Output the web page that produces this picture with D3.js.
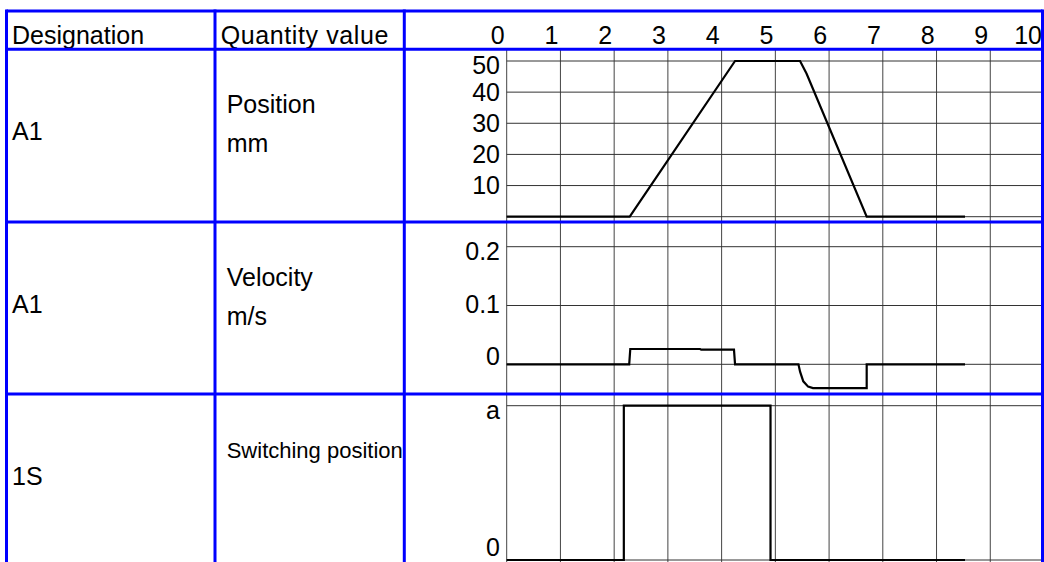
<!DOCTYPE html>
<html>
<head>
<meta charset="utf-8">
<script src="https://cdn.jsdelivr.net/npm/d3@7"></script>
<style>
  html, body { margin: 0; padding: 0; background: #fff; }
  svg { display: block; font-family: "Liberation Sans", Arial, sans-serif; }
</style>
</head>
<body>
<div id="chart"></div>
<script>
// time steps across the header
const timeTicks = [0, 1, 2, 3, 4, 5, 6, 7, 8, 9, 10];

// left columns
const designations = ["A1", "A1", "1S"];
const quantities = [["Position", "mm"], ["Velocity", "m/s"], ["Switching position"]];

// A1 position (mm)
const positionTicks = [10, 20, 30, 40, 50];
const positionTime = [0, 2.29, 4.25, 5.46, 5.58, 6.70, 8.53];
const positionValue = [0, 0, 50, 50, 46, 0, 0];

// A1 velocity (m/s)
const velocityTicks = [0, 0.1, 0.2];
const velocityTime = [0, 2.28, 2.30, 3.60, 3.62, 4.23, 4.25, 5.43, 5.46, 5.52, 5.61, 5.70, 6.70, 6.70, 8.53];
const velocityValue = [0, 0, 0.026, 0.026, 0.025, 0.025, 0, 0, -0.0125, -0.029, -0.038, -0.0405, -0.0405, 0, 0];

// 1S switching position, 0 / a
const switchTicks = [0, 1];
const switchTickLabels = ["0", "a"];
const switchTime = [0, 2.18, 2.18, 4.91, 4.91, 8.53];
const switchValue = [0, 0, 1, 1, 0, 0];

const W = 1044, H = 562;
const fontSize = 25;
const blue = "#0000ff";

// table frame
const cols = [6.5, 215, 404.3, 1042.5];
const headTop = 11, headBottom = 49.3;
const rowTops = [headBottom, 222, 394];

const x = d3.scaleLinear().domain([0, 10]).range([506.7, 1044]);

const svg = d3.select("#chart").append("svg").attr("width", W).attr("height", H);

// one panel per row, each with its own y scale
const posY = d3.scaleLinear().domain([0, 50]).range([216.7, 61]);
const velY = d3.scaleLinear().domain([0, 0.2]).range([364.3, 246.7]);
const swY = d3.scaleLinear().domain([0, 1]).range([560, 405.7]);

const panels = [
  {
    y: posY,
    grid: [0, ...positionTicks],
    ticks: positionTicks,
    labels: positionTicks.map(String),
    labelY: (v) => Math.max(posY(v), 65.7), // top label is pushed down a bit
    data: positionTime.map((t, i) => [t, positionValue[i]]),
  },
  {
    y: velY,
    grid: velocityTicks,
    ticks: velocityTicks,
    labels: velocityTicks.map(String),
    labelY: d3.scaleLinear().domain([0, 0.2]).range([356.7, 251.7]),
    data: velocityTime.map((t, i) => [t, velocityValue[i]]),
  },
  {
    y: swY,
    grid: switchTicks,
    ticks: switchTicks,
    labels: switchTickLabels,
    labelY: d3.scaleLinear().domain([0, 1]).range([547, 410]),
    data: switchTime.map((t, i) => [t, switchValue[i]]),
  },
];

// vertical grid, runs through all rows
svg.append("g")
  .selectAll("line")
  .data(timeTicks)
  .enter()
  .append("line")
  .attr("x1", (d) => x(d))
  .attr("x2", (d) => x(d))
  .attr("y1", headBottom)
  .attr("y2", H)
  .attr("stroke", "#444")
  .attr("stroke-width", 1);

// header time labels
svg.append("g")
  .selectAll("text")
  .data(timeTicks)
  .enter()
  .append("text")
  .attr("x", (d) => x(d) - 2)
  .attr("y", 44.3)
  .attr("text-anchor", "end")
  .attr("font-size", fontSize)
  .text((d) => d);

svg.append("text").attr("x", 12).attr("y", 44.3).attr("font-size", fontSize).text("Designation");
svg.append("text").attr("x", 220.7).attr("y", 44.3).attr("font-size", fontSize)
  .attr("letter-spacing", 0.6).text("Quantity value");

panels.forEach((p, i) => {
  const top = rowTops[i];
  const g = svg.append("g");

  // horizontal grid
  g.selectAll(".hgrid")
    .data(p.grid)
    .enter()
    .append("line")
    .attr("class", "hgrid")
    .attr("x1", x(0))
    .attr("x2", cols[3])
    .attr("y1", (d) => p.y(d))
    .attr("y2", (d) => p.y(d))
    .attr("stroke", "#333")
    .attr("stroke-width", 1);

  // y tick labels
  g.selectAll(".ylab")
    .data(p.ticks)
    .enter()
    .append("text")
    .attr("class", "ylab")
    .attr("x", 500)
    .attr("y", (d) => p.labelY(d))
    .attr("dy", "0.35em")
    .attr("text-anchor", "end")
    .attr("font-size", fontSize)
    .text((d, j) => p.labels[j]);

  const line = d3.line()
    .x((d) => x(d[0]))
    .y((d) => p.y(d[1]));

  g.append("path")
    .attr("d", line(p.data))
    .attr("fill", "none")
    .attr("stroke", "#000")
    .attr("stroke-width", 2.2);

  // left columns
  svg.append("text")
    .attr("x", 12)
    .attr("y", top + 90.5)
    .attr("font-size", fontSize)
    .text(designations[i]);

  const small = quantities[i].length === 1;
  quantities[i].forEach((q, k) => {
    svg.append("text")
      .attr("x", 226.7)
      .attr("y", top + 63.5 + k * 39)
      .attr("font-size", small ? 22 : fontSize)
      .text(q);
  });
});

// blue table lines on top of everything
const frame = svg.append("g").attr("stroke", blue).attr("stroke-width", 3);
[headTop, ...rowTops].forEach((yy) => {
  frame.append("line").attr("x1", cols[0]).attr("x2", cols[3]).attr("y1", yy).attr("y2", yy);
});
cols.forEach((xx) => {
  frame.append("line").attr("x1", xx).attr("x2", xx).attr("y1", headTop - 1.5).attr("y2", H);
});
</script>
</body>
</html>
